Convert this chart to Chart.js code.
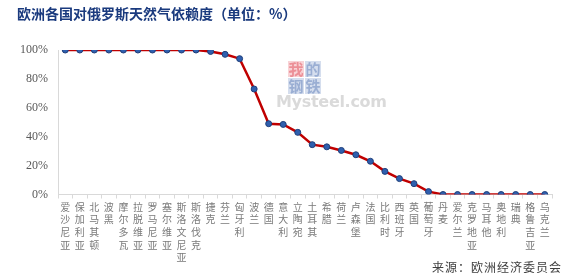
<!DOCTYPE html>
<html>
<head>
<meta charset="utf-8">
<script src="https://cdn.jsdelivr.net/npm/chart.js@4"></script>
<style>
  html, body { margin: 0; padding: 0; background: #fff; }
  #wrap { position: relative; width: 567px; height: 280px; overflow: hidden; }
  #title {
    position: absolute; left: 17px; top: 4px;
    font: bold 14px "Noto Sans CJK SC", sans-serif; line-height: 18px;
    color: #1a3a7e; white-space: nowrap;
  }
  #source {
    position: absolute; right: 5px; top: 259px;
    font: 12px "Noto Sans CJK SC", sans-serif; line-height: 16px;
    letter-spacing: 1px; color: #404040; white-space: nowrap;
  }
  #mark { position: absolute; left: 276px; top: 60px; width: 90px; height: 50px; }
  #mark .c {
    position: absolute; width: 16px; height: 16px;
    font: bold 15px "Noto Sans CJK SC", sans-serif; line-height: 16px;
    text-align: center;
  }
  #mark .w {
    position: absolute; left: 0; top: 34px;
    font: bold 16px "DejaVu Sans", sans-serif; line-height: 16px;
    color: #dadada; letter-spacing: -0.3px;
  }
</style>
</head>
<body>
<div id="wrap">
  <canvas id="chart" width="567" height="280"></canvas>
  <div id="mark">
    <div class="c" style="left:12px;top:1px;background:#f8d3d6;color:#ec8f96;">我</div>
    <div class="c" style="left:29px;top:1px;background:#d5deee;color:#9aaed3;">的</div>
    <div class="c" style="left:12px;top:18px;background:#d5deee;color:#9aaed3;">钢</div>
    <div class="c" style="left:29px;top:18px;background:#d5deee;color:#9aaed3;">铁</div>
    <div class="w">Mysteel.com</div>
  </div>
  <div id="title">欧洲各国对俄罗斯天然气依赖度（单位：%）</div>
  <div id="source">来源：欧洲经济委员会</div>
</div>
<script>
const countries = [
  "爱沙尼亚", "保加利亚", "北马其顿", "波黑", "摩尔多瓦", "拉脱维亚",
  "罗马尼亚", "塞尔维亚", "斯洛文尼亚", "斯洛伐克", "捷克", "芬兰",
  "匈牙利", "波兰", "德国", "意大利", "立陶宛", "土耳其",
  "希腊", "荷兰", "卢森堡", "法国", "比利时", "西班牙",
  "英国", "葡萄牙", "丹麦", "爱尔兰", "克罗地亚", "马耳他",
  "奥地利", "瑞典", "格鲁吉亚", "乌克兰"
];
const dependence = [
  100, 100, 100, 100, 100, 100,
  100, 100, 100, 100, 99, 97,
  94, 73, 49, 48.5, 43, 34.5,
  33, 30.5, 27.5, 23, 16, 11,
  7.5, 2, 0, 0, 0, 0,
  0, 0, 0, 0
];
const yTicks = [0, 10, 20, 30, 40, 50, 60, 70, 80, 90, 100];

// vertical labels: one character per line
const verticalLabels = countries.map(name => name.split(""));

const ctx = document.getElementById("chart").getContext("2d");

new Chart(ctx, {
  type: "line",
  data: {
    labels: verticalLabels,
    datasets: [{
      data: dependence,
      borderColor: "#c00000",
      borderWidth: 2.5,
      tension: 0,
      fill: false,
      pointRadius: 3,
      pointBackgroundColor: "#2f5fae",
      pointBorderColor: "#1f3f7a",
      pointBorderWidth: 1
    }]
  },
  options: {
    responsive: false,
    animation: false,
    layout: {
      padding: { top: 50, right: 15, bottom: 14, left: 0 }
    },
    plugins: {
      legend: { display: false },
      title: { display: false },
      tooltip: { enabled: false }
    },
    scales: {
      x: {
        offset: true,
        grid: {
          offset: true,
          drawOnChartArea: false,
          drawTicks: true,
          tickLength: 4,
          color: "#d9d9d9"
        },
        border: { display: true, color: "#d9d9d9", width: 1 },
        ticks: {
          autoSkip: false,
          maxRotation: 0,
          minRotation: 0,
          padding: 2,
          color: "#7a7a7a",
          font: { family: "Noto Sans CJK SC", size: 10, lineHeight: 1.27 }
        }
      },
      y: {
        min: 0,
        max: 100,
        afterFit: scale => { scale.width = 58; },
        afterBuildTicks: scale => {
          scale.ticks = yTicks.map(v => ({ value: v }));
        },
        grid: { display: false, drawTicks: false },
        border: { display: true, color: "#d9d9d9", width: 1 },
        ticks: {
          padding: 10,
          color: "#595959",
          font: { family: "Liberation Serif", size: 12 },
          callback: v => v + "%"
        }
      }
    }
  }
});
</script>
</body>
</html>
